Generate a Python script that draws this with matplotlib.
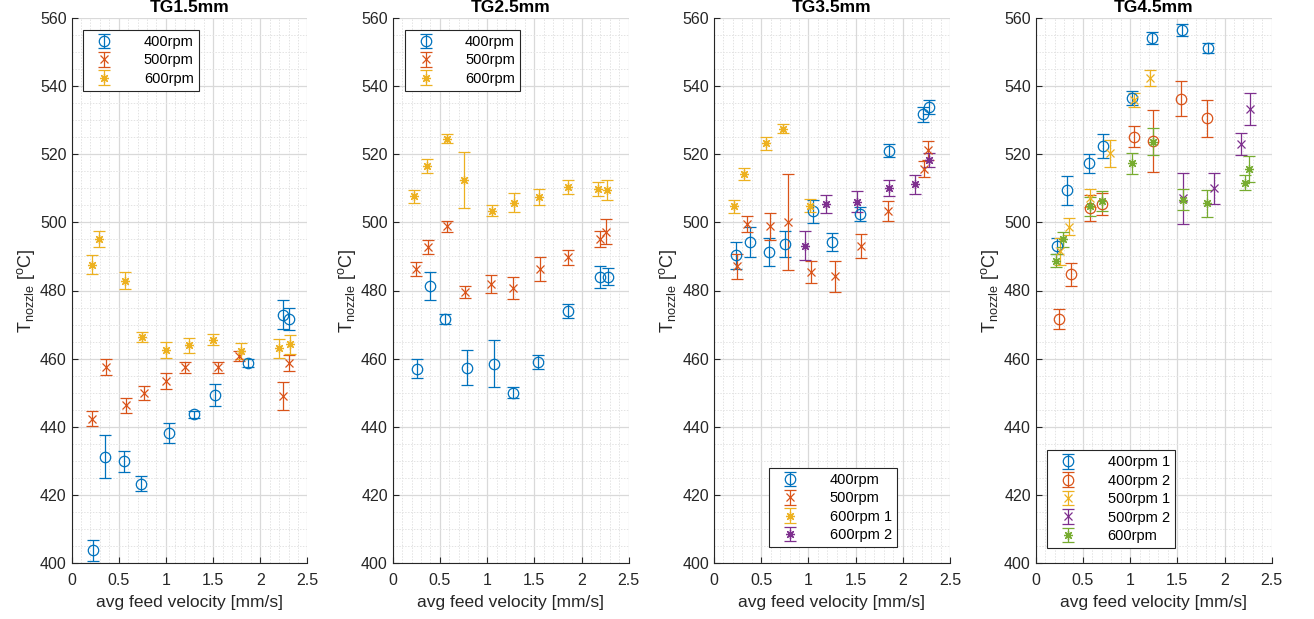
import numpy as np
import matplotlib
matplotlib.use("Agg")
import matplotlib.pyplot as plt
from matplotlib.ticker import MultipleLocator

# --- TG1.5mm ---
tg15_400_x = [0.23, 0.36, 0.56, 0.74, 1.03, 1.30, 1.52, 1.87, 2.24, 2.30]
tg15_400_y = [403.7, 431.2, 429.8, 423.3, 438.1, 443.6, 449.4, 458.6, 472.9, 471.7]
tg15_400_e = [3.0, 6.3, 3.2, 2.3, 3.0, 1.0, 3.2, 1.2, 4.2, 3.3]
tg15_500_x = [0.22, 0.37, 0.58, 0.77, 1.00, 1.20, 1.55, 1.77, 2.24, 2.30]
tg15_500_y = [442.4, 457.5, 446.3, 449.9, 453.5, 457.5, 457.4, 460.8, 449.0, 458.8]
tg15_500_e = [2.2, 2.3, 2.2, 2.0, 2.3, 1.6, 1.5, 1.5, 4.0, 2.3]
tg15_600_x = [0.22, 0.29, 0.57, 0.75, 1.00, 1.25, 1.50, 1.80, 2.20, 2.31]
tg15_600_y = [487.6, 495.2, 482.9, 466.4, 462.5, 463.9, 465.6, 462.2, 463.0, 464.2]
tg15_600_e = [2.9, 2.4, 2.6, 1.5, 2.3, 2.3, 1.7, 2.4, 2.7, 2.8]

# --- TG2.5mm ---
tg25_400_x = [0.26, 0.39, 0.55, 0.79, 1.07, 1.27, 1.54, 1.86, 2.20, 2.28]
tg25_400_y = [457.1, 481.3, 471.7, 457.3, 458.5, 450.0, 459.0, 473.9, 483.9, 484.0]
tg25_400_e = [2.8, 4.2, 1.4, 5.1, 6.9, 1.6, 2.1, 2.0, 3.2, 2.5]
tg25_500_x = [0.25, 0.37, 0.58, 0.77, 1.04, 1.27, 1.56, 1.86, 2.20, 2.26]
tg25_500_y = [486.3, 492.7, 498.8, 479.6, 481.9, 480.7, 486.4, 489.7, 495.2, 497.3]
tg25_500_e = [2.0, 2.0, 1.6, 1.7, 2.6, 3.3, 3.5, 2.2, 2.4, 3.7]
tg25_600_x = [0.23, 0.36, 0.58, 0.75, 1.05, 1.29, 1.55, 1.86, 2.18, 2.27]
tg25_600_y = [507.6, 516.6, 524.6, 512.5, 503.4, 505.8, 507.5, 510.3, 509.8, 509.5]
tg25_600_e = [2.0, 2.1, 1.2, 8.2, 1.6, 2.9, 2.4, 2.0, 2.2, 2.8]

# --- TG3.5mm ---
tg35_400_x = [0.23, 0.38, 0.58, 0.75, 1.05, 1.25, 1.55, 1.85, 2.21, 2.28]
tg35_400_y = [490.3, 494.2, 491.3, 493.7, 503.2, 494.3, 502.5, 521.1, 531.7, 533.8]
tg35_400_e = [3.9, 4.5, 4.0, 3.9, 3.3, 2.6, 2.1, 2.0, 2.2, 2.0]
tg35_500_x = [0.24, 0.35, 0.59, 0.78, 1.03, 1.28, 1.56, 1.84, 2.22, 2.27]
tg35_500_y = [487.1, 499.5, 498.8, 500.1, 485.4, 484.2, 493.0, 503.4, 515.7, 521.2]
tg35_500_e = [3.6, 2.3, 4.0, 14.2, 3.2, 4.5, 3.5, 2.9, 2.4, 2.8]
tg35_600a_x = [0.21, 0.32, 0.55, 0.73, 1.02]
tg35_600a_y = [504.7, 514.2, 523.2, 527.5, 504.9]
tg35_600a_e = [2.0, 1.8, 1.9, 1.4, 2.0]
tg35_600b_x = [0.96, 1.19, 1.51, 1.85, 2.13, 2.28]
tg35_600b_y = [493.2, 505.4, 506.1, 510.0, 511.2, 518.4]
tg35_600b_e = [4.3, 2.6, 3.0, 2.4, 2.8, 2.0]

# --- TG4.5mm ---
tg45_400a_x = [0.23, 0.33, 0.56, 0.71, 1.02, 1.23, 1.55, 1.82]
tg45_400a_y = [493.0, 509.4, 517.3, 522.5, 536.6, 554.1, 556.5, 551.2]
tg45_400a_e = [2.3, 4.2, 2.9, 3.5, 2.0, 1.7, 1.7, 1.5]
tg45_400b_x = [0.25, 0.37, 0.58, 0.70, 1.04, 1.24, 1.54, 1.81]
tg45_400b_y = [471.7, 484.7, 504.2, 505.4, 525.2, 523.9, 536.3, 530.5]
tg45_400b_e = [2.9, 3.3, 3.7, 3.2, 3.0, 9.1, 5.2, 5.3]
tg45_500a_x = [0.26, 0.35, 0.58, 0.79, 1.04, 1.21]
tg45_500a_y = [491.5, 498.7, 507.1, 520.3, 536.0, 542.4]
tg45_500a_e = [3.9, 2.5, 2.7, 3.9, 2.1, 2.3]
tg45_500b_x = [1.56, 1.89, 2.17, 2.27]
tg45_500b_y = [507.1, 510.0, 523.1, 533.4]
tg45_500b_e = [7.5, 4.6, 3.2, 4.7]
tg45_600_x = [0.22, 0.29, 0.57, 0.70, 1.02, 1.24, 1.56, 1.81, 2.22, 2.26]
tg45_600_y = [488.8, 495.0, 504.7, 506.3, 517.3, 523.7, 506.6, 505.6, 511.7, 515.7]
tg45_600_e = [2.0, 2.3, 2.7, 3.0, 3.0, 3.9, 3.1, 4.0, 2.3, 3.8]

titles = ["TG1.5mm", "TG2.5mm", "TG3.5mm", "TG4.5mm"]

C_BLUE = "#0072BD"
C_RED = "#D95319"
C_YEL = "#EDB120"
C_PUR = "#7E2F8E"
C_GRN = "#77AC30"
ASTER = (8, 2, 0)

panels = [
    [(tg15_400_x, tg15_400_y, tg15_400_e, "o", C_BLUE, "400rpm"),
     (tg15_500_x, tg15_500_y, tg15_500_e, "x", C_RED, "500rpm"),
     (tg15_600_x, tg15_600_y, tg15_600_e, ASTER, C_YEL, "600rpm")],
    [(tg25_400_x, tg25_400_y, tg25_400_e, "o", C_BLUE, "400rpm"),
     (tg25_500_x, tg25_500_y, tg25_500_e, "x", C_RED, "500rpm"),
     (tg25_600_x, tg25_600_y, tg25_600_e, ASTER, C_YEL, "600rpm")],
    [(tg35_400_x, tg35_400_y, tg35_400_e, "o", C_BLUE, "400rpm"),
     (tg35_500_x, tg35_500_y, tg35_500_e, "x", C_RED, "500rpm"),
     (tg35_600a_x, tg35_600a_y, tg35_600a_e, ASTER, C_YEL, "600rpm 1"),
     (tg35_600b_x, tg35_600b_y, tg35_600b_e, ASTER, C_PUR, "600rpm 2")],
    [(tg45_400a_x, tg45_400a_y, tg45_400a_e, "o", C_BLUE, "400rpm 1"),
     (tg45_400b_x, tg45_400b_y, tg45_400b_e, "o", C_RED, "400rpm 2"),
     (tg45_500a_x, tg45_500a_y, tg45_500a_e, "x", C_YEL, "500rpm 1"),
     (tg45_500b_x, tg45_500b_y, tg45_500b_e, "x", C_PUR, "500rpm 2"),
     (tg45_600_x, tg45_600_y, tg45_600_e, ASTER, C_GRN, "600rpm")],
]

# legend anchors (axes fraction) and loc for each panel
legend_pos = [("upper left", (0.05, 0.978)),
              ("upper left", (0.05, 0.978)),
              ("lower left", (0.233, 0.029)),
              ("lower left", (0.048, 0.0275))]

marker_size = {"o": 7.5, "x": 6.0}

plt.rcParams["font.family"] = ["Liberation Sans", "DejaVu Sans"]
plt.rcParams["mathtext.fontset"] = "custom"
plt.rcParams["mathtext.rm"] = "Liberation Sans"
plt.rcParams["mathtext.it"] = "Liberation Sans"

AX_COL = "#262626"

fig = plt.figure(figsize=(13.14, 6.19), dpi=100)
lefts = [71.5, 392.7, 714.0, 1035.7]
for i, left in enumerate(lefts):
    ax = fig.add_axes([left / 1314, 56 / 619, 236 / 1314, 545 / 619])
    for xs, ys, es, mk, col, lab in panels[i]:
        ax.errorbar(xs, ys, yerr=es, marker=mk, linestyle="none", color=col,
                    ms=marker_size.get(mk, 6.5),
                    mfc="none", mew=0.9, elinewidth=0.9,
                    capsize=4.5, capthick=0.9, label=lab)
    ax.set_xlim(0, 2.5)
    ax.set_ylim(400, 560)
    ax.xaxis.set_major_locator(MultipleLocator(0.5))
    ax.xaxis.set_minor_locator(MultipleLocator(0.1))
    ax.yaxis.set_major_locator(MultipleLocator(20))
    ax.yaxis.set_minor_locator(MultipleLocator(5))
    ax.xaxis.set_major_formatter(plt.FuncFormatter(lambda v, p: f"{v:g}"))
    ax.grid(which="major", color="#d9d9d9", lw=0.9)
    ax.grid(which="minor", color="#e3e3e3", lw=0.7, ls=(0, (1.5, 1.5)))
    ax.set_axisbelow(True)
    for s in ["top", "right"]:
        ax.spines[s].set_visible(False)
    for s in ["left", "bottom"]:
        ax.spines[s].set_color(AX_COL)
        ax.spines[s].set_linewidth(0.8)
    ax.tick_params(which="both", direction="in", colors=AX_COL, labelsize=11.5,
                   top=False, right=False)
    ax.tick_params(which="major", length=4)
    ax.tick_params(which="minor", length=0)
    ax.tick_params(axis="x", which="major", pad=7.5)
    ax.set_xlabel("avg feed velocity [mm/s]", fontsize=12.5, color=AX_COL, labelpad=5)
    ax.set_ylabel(r"T$_{\mathrm{nozzle}}$ [$^{\mathrm{o}}$C]", fontsize=13, color=AX_COL,
                  labelpad=2)
    ax.set_title(titles[i], fontsize=12.5, fontweight="bold", pad=4)
    loc, anchor = legend_pos[i]
    leg = ax.legend(loc=loc, bbox_to_anchor=anchor, borderaxespad=0, fontsize=10.5,
                    frameon=True, fancybox=False, framealpha=1, edgecolor=AX_COL,
                    handlelength=2.2, handletextpad=1.6, labelspacing=0.3,
                    borderpad=0.35)
    leg.get_frame().set_linewidth(0.8)

fig.savefig("out.png", dpi=100)
